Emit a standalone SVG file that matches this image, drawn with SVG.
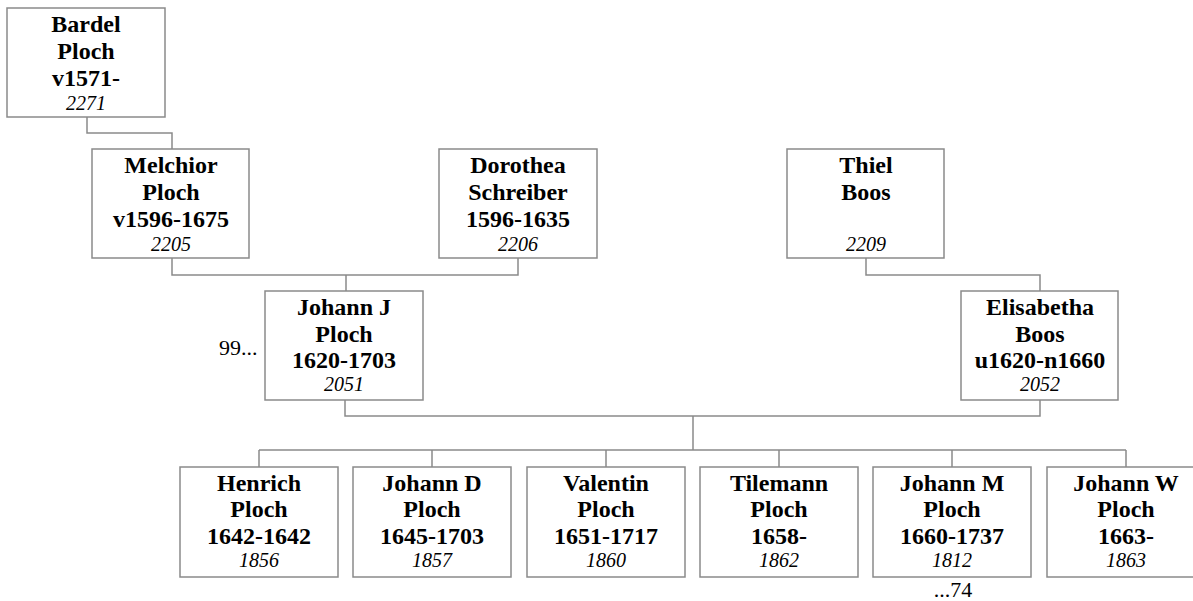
<svg xmlns="http://www.w3.org/2000/svg" width="1193" height="601" viewBox="0 0 1193 601">
<style>
.box{fill:#fff;stroke:#8a8a8a;stroke-width:1.5}
.con{fill:none;stroke:#8a8a8a;stroke-width:1.5}
.n{font-family:"Liberation Serif","Times New Roman",serif;font-weight:bold;font-size:24px;fill:#000;text-anchor:middle}
.id{font-family:"Liberation Serif","Times New Roman",serif;font-style:italic;font-size:20px;fill:#000;text-anchor:middle}
.m{font-family:"Liberation Serif","Times New Roman",serif;font-size:22px;fill:#000}
</style>
<rect width="1193" height="601" fill="#fff"/>
<g id="connectors">
<path class="con" d="M87,117 V133 H172 V149"/>
<path class="con" d="M172,258 V275 H518 V258 M346,275 V291"/>
<path class="con" d="M866,258 V275 H1040 V291"/>
<path class="con" d="M345,400 V416 H1040 V400 M693,416 V450"/>
<path class="con" d="M259,450 H1126 M259,450 V467 M432,450 V467 M606,450 V467 M779,450 V467 M952,450 V467 M1126,450 V467"/>
</g>
<g id="bardel">
<rect class="box" x="7" y="8" width="158" height="109"/>
<text class="n" x="86" y="32">Bardel</text>
<text class="n" x="86" y="59">Ploch</text>
<text class="n" x="86" y="86">v1571-</text>
<text class="id" x="86" y="110">2271</text>
</g>
<g id="melchior">
<rect class="box" x="92" y="149" width="157" height="109"/>
<text class="n" x="171" y="173">Melchior</text>
<text class="n" x="171" y="200">Ploch</text>
<text class="n" x="171" y="227">v1596-1675</text>
<text class="id" x="171" y="251">2205</text>
</g>
<g id="dorothea">
<rect class="box" x="439" y="149" width="158" height="109"/>
<text class="n" x="518" y="173">Dorothea</text>
<text class="n" x="518" y="200">Schreiber</text>
<text class="n" x="518" y="227">1596-1635</text>
<text class="id" x="518" y="251">2206</text>
</g>
<g id="thiel">
<rect class="box" x="787" y="149" width="157" height="109"/>
<text class="n" x="866" y="173">Thiel</text>
<text class="n" x="866" y="200">Boos</text>
<text class="id" x="866" y="251">2209</text>
</g>
<g id="johannj">
<rect class="box" x="265" y="291" width="158" height="109"/>
<text class="n" x="344" y="315">Johann J</text>
<text class="n" x="344" y="342">Ploch</text>
<text class="n" x="344" y="368">1620-1703</text>
<text class="id" x="344" y="391">2051</text>
<text class="m" x="219" y="355">99...</text>
</g>
<g id="elisabetha">
<rect class="box" x="961" y="291" width="157" height="109"/>
<text class="n" x="1040" y="315">Elisabetha</text>
<text class="n" x="1040" y="342">Boos</text>
<text class="n" x="1040" y="368">u1620-n1660</text>
<text class="id" x="1040" y="391">2052</text>
</g>
<g id="henrich">
<rect class="box" x="180" y="467" width="158" height="110"/>
<text class="n" x="259" y="491">Henrich</text>
<text class="n" x="259" y="517">Ploch</text>
<text class="n" x="259" y="544">1642-1642</text>
<text class="id" x="259" y="567">1856</text>
</g>
<g id="johannd">
<rect class="box" x="353" y="467" width="158" height="110"/>
<text class="n" x="432" y="491">Johann D</text>
<text class="n" x="432" y="517">Ploch</text>
<text class="n" x="432" y="544">1645-1703</text>
<text class="id" x="432" y="567">1857</text>
</g>
<g id="valentin">
<rect class="box" x="527" y="467" width="158" height="110"/>
<text class="n" x="606" y="491">Valentin</text>
<text class="n" x="606" y="517">Ploch</text>
<text class="n" x="606" y="544">1651-1717</text>
<text class="id" x="606" y="567">1860</text>
</g>
<g id="tilemann">
<rect class="box" x="700" y="467" width="158" height="110"/>
<text class="n" x="779" y="491">Tilemann</text>
<text class="n" x="779" y="517">Ploch</text>
<text class="n" x="779" y="544">1658-</text>
<text class="id" x="779" y="567">1862</text>
</g>
<g id="johannm">
<rect class="box" x="873" y="467" width="158" height="110"/>
<text class="n" x="952" y="491">Johann M</text>
<text class="n" x="952" y="517">Ploch</text>
<text class="n" x="952" y="544">1660-1737</text>
<text class="id" x="952" y="567">1812</text>
<text class="m" x="953" y="597" text-anchor="middle">...74</text>
</g>
<g id="johannw">
<rect class="box" x="1047" y="467" width="158" height="110"/>
<text class="n" x="1126" y="491">Johann W</text>
<text class="n" x="1126" y="517">Ploch</text>
<text class="n" x="1126" y="544">1663-</text>
<text class="id" x="1126" y="567">1863</text>
</g>
</svg>
